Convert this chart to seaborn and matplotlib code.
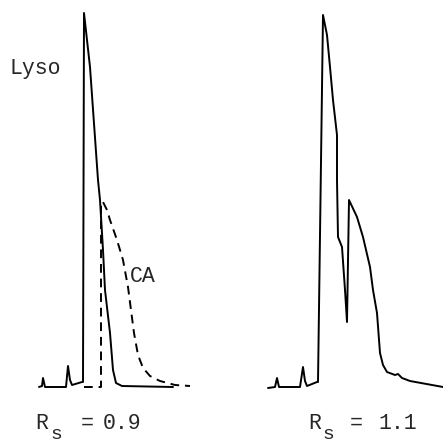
import matplotlib
matplotlib.use("Agg")
import matplotlib.pyplot as plt
import seaborn as sns
import pandas as pd

sns.set_theme(style="white")
plt.rcParams['font.family'] = ['Liberation Mono', 'DejaVu Sans Mono']

# Left chromatogram (Rs = 0.9): Lysozyme (solid) and CA (dashed)
lyso_t = [39, 42, 43, 45, 66, 68, 70, 72, 82, 83, 84, 90, 98, 100, 103, 105, 110, 113, 116, 122, 173]
lyso_h = [1, 2, 10, 1, 1, 22, 8, 3, 6, 6, 375, 321, 208, 188, 138, 98, 55, 18, 5, 2, 1]

ca_t = [84, 100, 101, 101, 103, 107, 110, 117, 123, 128, 131, 134, 138, 143, 150, 160, 175, 190]
ca_h = [1, 1, 1, 186, 186, 178, 168, 148, 128, 101, 78, 55, 33, 20, 12, 7, 3, 2]

# Right chromatogram (Rs = 1.1): combined trace
mix_t = [268, 275, 277, 279, 300, 303, 305, 307, 317, 318, 323, 327, 330, 333, 337, 337, 338,
         342, 345, 347, 349, 357, 363, 370, 373, 377, 380, 383, 387, 395, 398, 402, 410, 443]
mix_h = [0, 1, 10, 1, 1, 21, 7, 2, 6, 6, 373, 353, 321, 288, 253, 208, 151,
         141, 98, 66, 188, 171, 151, 121, 98, 75, 35, 23, 16, 13, 14, 10, 7, 1]

rs_left = "0.9"
rs_right = "1.1"

fig = plt.figure(figsize=(4.43, 4.43), dpi=100)
axL = fig.add_axes([0, 0, 0.5, 1])
axR = fig.add_axes([0.5, 0, 0.5, 1])

lw = 1.4
sns.lineplot(x=lyso_t, y=lyso_h, ax=axL, color="black", lw=lw, sort=False, estimator=None)
sns.lineplot(x=ca_t, y=ca_h, ax=axL, color="black", lw=lw, sort=False, estimator=None,
             linestyle=(0, (4.5, 3)))
sns.lineplot(x=mix_t, y=mix_h, ax=axR, color="black", lw=lw, sort=False, estimator=None)

axL.set_xlim(0, 221.5)
axR.set_xlim(221.5, 443)
for ax in (axL, axR):
    ax.set_ylim(-55, 388)
    ax.axis("off")

fs = 15.5
axL.text(10, 314, "Lyso", fontsize=fs, ha="left", va="baseline")
axL.text(130, 106, "CA", fontsize=fs, ha="left", va="baseline")

def rs_label(ax, xr, xs, xeq, xnum, val):
    ax.text(xr, -41, "R", fontsize=fs, ha="left", va="baseline")
    ax.text(xs, -51, "s", fontsize=14, ha="left", va="baseline")
    ax.text(xeq, -41, "=", fontsize=fs, ha="center", va="baseline")
    ax.text(xnum, -41, val, fontsize=fs, ha="center", va="baseline")

rs_label(axL, 35, 50, 87, 122.5, rs_left)
rs_label(axR, 308, 322, 356, 398, rs_right)

fig.savefig("out.png", dpi=100)
